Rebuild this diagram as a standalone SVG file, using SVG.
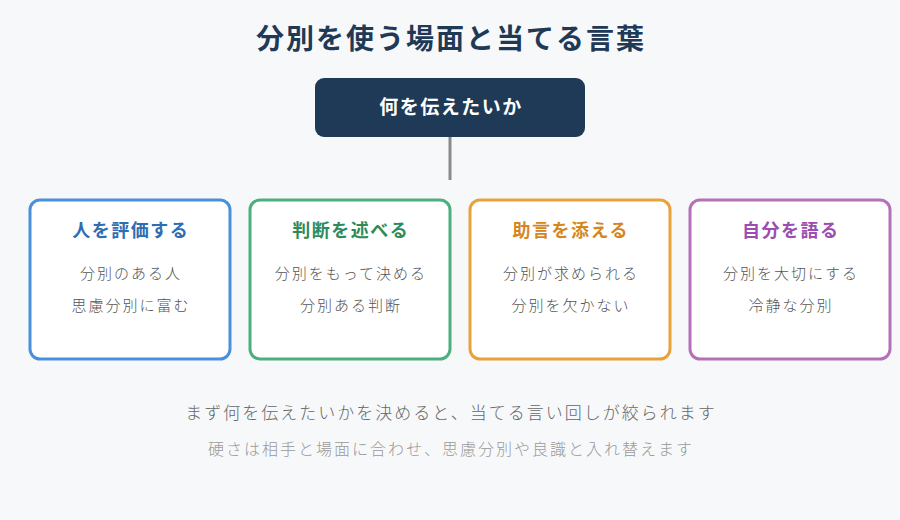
<svg xmlns="http://www.w3.org/2000/svg" width="900" height="520" viewBox="0 0 900 520">
  <style>
    text { font-family: "Noto Sans CJK JP", "Noto Sans", sans-serif; text-anchor: middle; }
    .title { font-size: 28px; font-weight: 700; fill: #1f3a56; letter-spacing: 2px; }
    .root-text { font-size: 19px; font-weight: 700; fill: #ffffff; letter-spacing: 1.5px; }
    .card { fill: #ffffff; stroke-width: 3; }
    .head { font-size: 18px; font-weight: 700; letter-spacing: 1.5px; }
    .item { font-size: 15px; fill: #555555; letter-spacing: 2px; font-weight: 300; }
    .note1 { font-size: 17px; fill: #666666; letter-spacing: 2px; font-weight: 300; }
    .note2 { font-size: 16px; fill: #9a9a9a; letter-spacing: 2px; font-weight: 300; }
  </style>
  <rect x="0" y="0" width="900" height="520" fill="#f7f8fa"/>
  <text class="title" x="451" y="49">分別を使う場面と当てる言葉</text>

  <g id="connectors">
    <line x1="450" y1="137" x2="450" y2="180" stroke="#8a8a8a" stroke-width="3"/>
  </g>

  <g id="root">
    <rect x="315" y="78" width="270" height="59" rx="9" fill="#1f3a56"/>
    <text class="root-text" x="451" y="114">何を伝えたいか</text>
  </g>

  <g id="card-person">
    <rect class="card" x="30" y="200" width="200" height="159" rx="10" stroke="#4a90d9"/>
    <text class="head" x="130.75" y="237" fill="#2e6db4">人を評価する</text>
    <text class="item" x="131" y="279">分別のある人</text>
    <text class="item" x="131" y="311">思慮分別に富む</text>
  </g>

  <g id="card-judgment">
    <rect class="card" x="250" y="200" width="200" height="159" rx="10" stroke="#4caf7d"/>
    <text class="head" x="350.75" y="237" fill="#2e8b57">判断を述べる</text>
    <text class="item" x="351" y="279">分別をもって決める</text>
    <text class="item" x="351" y="311">分別ある判断</text>
  </g>

  <g id="card-advice">
    <rect class="card" x="470" y="200" width="200" height="159" rx="10" stroke="#e8a23a"/>
    <text class="head" x="570.75" y="237" fill="#d4861f">助言を添える</text>
    <text class="item" x="571" y="279">分別が求められる</text>
    <text class="item" x="571" y="311">分別を欠かない</text>
  </g>

  <g id="card-self">
    <rect class="card" x="690" y="200" width="200" height="159" rx="10" stroke="#b570b8"/>
    <text class="head" x="790.75" y="237" fill="#9b4db0">自分を語る</text>
    <text class="item" x="791" y="279">分別を大切にする</text>
    <text class="item" x="791" y="311">冷静な分別</text>
  </g>

  <text class="note1" x="451" y="419">まず何を伝えたいかを決めると、当てる言い回しが絞られます</text>
  <text class="note2" x="451" y="455">硬さは相手と場面に合わせ、思慮分別や良識と入れ替えます</text>
</svg>
